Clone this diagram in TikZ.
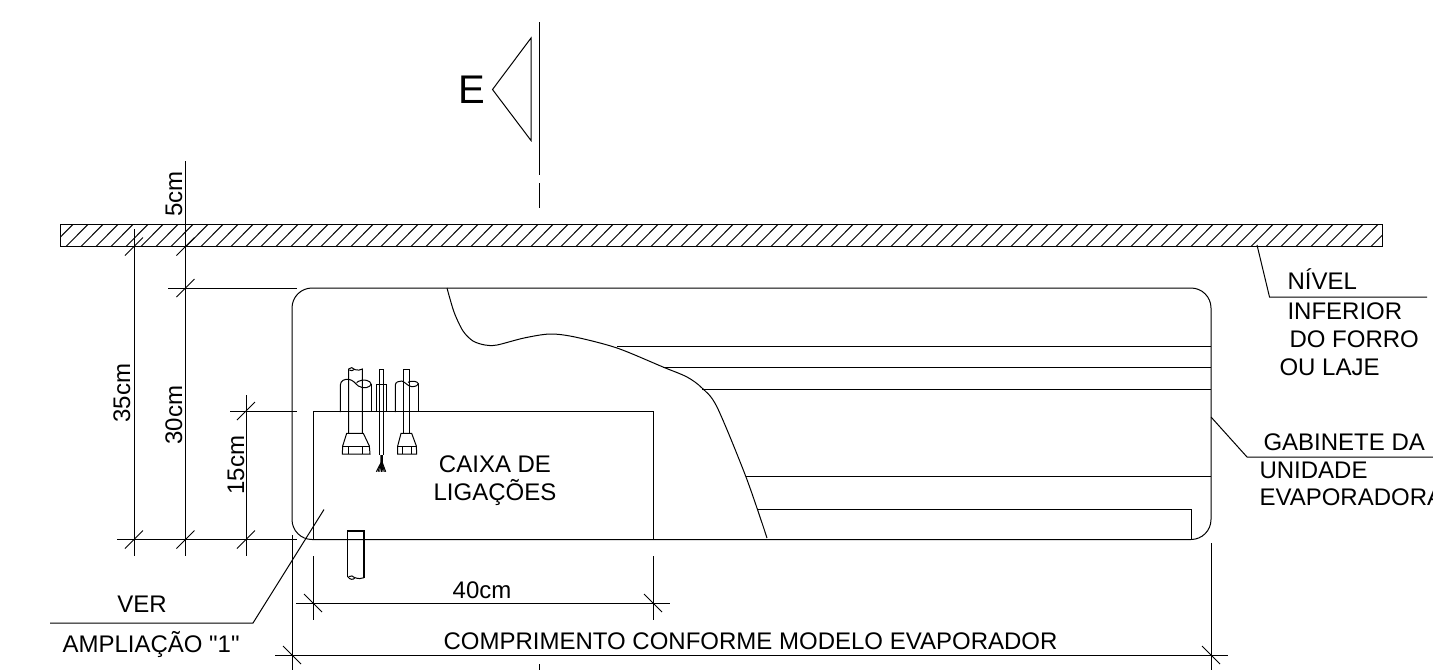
\documentclass[tikz,border=0pt]{standalone}
\usepackage{fontspec}
\newfontfamily\lblfont{Liberation Sans}
\tikzset{
  ln/.style={line width=0.5pt,black},
  lbl/.style={inner sep=0pt,anchor=base,font=\lblfont\fontsize{12pt}{14pt}\selectfont,text=black},
  lbll/.style={lbl,anchor=base west},
  vlbl/.style={lbl,rotate=90}
}
\begin{document}
\begin{tikzpicture}[x=0.5pt,y=-0.5pt,ln]
\useasboundingbox (0,0) rectangle (1433,670);
\clip (0,0) rectangle (1433,670);
% slab
\draw (60,224.7) rectangle (1382,246.5);
\begin{scope}
\clip (60,224.7) rectangle (1382,246.5);
\foreach \k in {0,...,88} \draw ({72.7+15*\k},224.7) -- ({51+15*\k},246.5);
\end{scope}
% section mark
\draw (539.5,22) -- (539.5,175);
\draw (539.5,183) -- (539.5,208);
\draw (539.5,664) -- (539.5,670);
\draw (531,38) -- (492.5,89.5) -- (531,140.5) -- cycle;
\node[inner sep=0pt,anchor=base,font=\lblfont\fontsize{20pt}{22pt}\selectfont] (secE) at (471.5,103) {E};
% cabinet
\draw[rounded corners=10pt] (292,288) rectangle (1211,539.5);
% connection box
\draw (313,539.5) -- (313,411) -- (653,411) -- (653,539.5);
% cut-away curve
\draw plot[smooth,tension=0.5] coordinates {(447,288) (454,312) (463,331) (473,341) (485,345) (497,345) (524,338) (550,334) (575,337) (617,348) (663,367) (687,377) (702,388) (717,407) (746,477) (767,538)};
% inner lines
\draw (617,346) -- (1211,346);
\draw (663,367.5) -- (1211,367.5);
\draw (702,389) -- (1211,389);
\draw (746,476.5) -- (1211,476.5);
\draw (758,509.5) -- (1191.5,509.5) -- (1191.5,539.5);
% dimension lines
\draw (134,229) -- (134,556);
\draw (185.5,161) -- (185.5,556);
\draw (246,395) -- (246,556);
\draw (117,539.5) -- (297,539.5);
\draw (168,288) -- (297,288);
\draw (230,411) -- (297,411);
\draw (313,556) -- (313,620);
\draw (653,556) -- (653,620);
\draw (296,603) -- (670,603);
\draw (292,535) -- (292,670);
\draw (1211,543) -- (1211,670);
\draw (275,655) -- (1228,655);
% ticks /
\foreach \x/\y in {134/246.5,185.5/246.5,185.5/288,134/539.5,185.5/539.5,246/539.5,246/411}
  \draw (\x-9,\y+9) -- (\x+9,\y-9);
% ticks \
\foreach \x/\y in {313/603,653/603,292/655,1211/655}
  \draw (\x-9,\y-9) -- (\x+9,\y+9);
% leaders
\draw (324,509.5) -- (253,623) -- (50,623);
\draw (1257,245) -- (1269.5,297) -- (1427,297);
\draw (1211,417) -- (1247,457) -- (1433,457);
% fittings, in 3x crop coordinates
\begin{scope}[x=0.16667pt,y=-0.16667pt,shift={(900,1050)}]
  % large pipe
  \draw (121,186) -- (121,105) .. controls (121,92) and (135,86) .. (146,88) .. controls (160,90) and (165,100) .. (175,108) .. controls (190,118) and (213,112) .. (213,102) .. controls (213,92) and (190,85) .. (175,94) -- (170,98);
  \draw (213,102) -- (213,186);
  \draw (146,250) -- (146,57) .. controls (150,50) and (160,52) .. (165,59) .. controls (172,62) and (182,60) .. (187,57) -- (187,250);
  \draw (148,60) .. controls (152,64) and (160,62) .. (163,58);
  \draw (140,250) -- (190,250) -- (208,288) -- (210,312) -- (127,312) -- (128,288) -- cycle;
  \draw (128,288) -- (208,288);
  \draw (146,288) -- (146,312);
  \draw (187,288) -- (187,312);
  % middle cable
  \draw (237,315) -- (237,58) -- (250,58) -- (250,315);
  \draw (228,186) -- (228,103) -- (260,103) -- (260,186);
  \foreach \a/\b in {243/229,243/234,244/239,244/244,245/249,246/253,247/257}
    \draw (\a,315) -- (\a,338) -- (\b,365);
  % right pipe
  \draw (286,186) -- (286,105) .. controls (286,97) and (296,92) .. (305,93) .. controls (315,95) and (322,108) .. (335,110) .. controls (348,110) and (355,105) .. (355,101) .. controls (353,94) and (335,90) .. (324,97);
  \draw (355,101) -- (355,186);
  \draw (311,250) -- (311,58) -- (329,58) -- (329,250);
  \draw (303,250) -- (335,250) -- (349,288) -- (350,312) -- (293,312) -- (293,288) -- cycle;
  \draw (293,288) -- (349,288);
  \draw (307,288) -- (307,312);
  \draw (335,288) -- (335,312);
  % lower pipe
  \draw[line width=0.7pt] (143,680) -- (143,543) -- (192,543) -- (192,683);
  \draw (143,680) .. controls (150,690) and (160,690) .. (165,683) .. controls (175,687) and (185,686) .. (192,683);
  \draw (146,680) .. controls (152,676) and (160,677) .. (164,683);
\end{scope}
% labels
\node[vlbl] (l5) at (182,194) {5cm};
\node[vlbl] (l35) at (130,393) {35cm};
\node[vlbl] (l30) at (182,415) {30cm};
\node[vlbl] (l15) at (244,465) {15cm};
\node[lbl] (l40) at (482,598.5) {40cm};
\node[lbl] (lcomp) at (750.5,649) {COMPRIMENTO CONFORME MODELO EVAPORADOR};
\node[lbl] (lcx1) at (495,472) {CAIXA DE};
\node[lbl] (lcx2) at (495,500) {LIGAÇÕES};
\node[lbl] (lver) at (142,612) {VER};
\node[lbll] (lamp) at (62,652) {AMPLIAÇÃO "1"};
\node[lbll] (ln1) at (1287,289) {NÍVEL};
\node[lbll] (ln2) at (1287,319) {INFERIOR};
\node[lbll] (ln3) at (1289,347) {DO FORRO};
\node[lbll] (ln4) at (1279,375) {OU LAJE};
\node[lbll] (lg1) at (1263,450) {GABINETE DA};
\node[lbll] (lg2) at (1259,478) {UNIDADE};
\node[lbll] (lg3) at (1259,505) {EVAPORADORA};
\end{tikzpicture}
\end{document}
